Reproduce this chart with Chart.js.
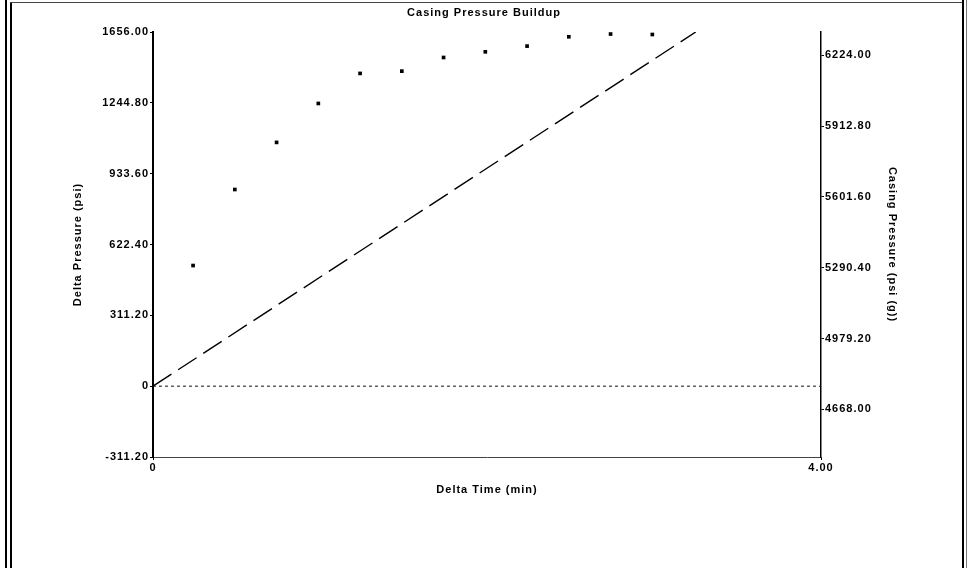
<!DOCTYPE html>
<html><head><meta charset="utf-8">
<script src="https://cdn.jsdelivr.net/npm/chart.js@4.4.1/dist/chart.umd.min.js"></script>
<style>
html,body{margin:0;padding:0;background:#fff;}
#wrap{position:relative;width:968px;height:568px;overflow:hidden;background:#fff;}
canvas{position:absolute;left:0;top:0;}
.ln{position:absolute;}
</style></head><body>
<div id="wrap">
<div class="ln" style="left:5px;top:0;width:2px;height:568px;background:#000"></div>
<div class="ln" style="left:10px;top:2px;width:2px;height:566px;background:#000"></div>
<div class="ln" style="left:10px;top:2px;width:953px;height:1px;background:#444"></div>
<div class="ln" style="left:962px;top:0;width:2px;height:568px;background:#000"></div>
<div class="ln" style="left:966px;top:0;width:1px;height:568px;background:#777"></div>
<canvas id="c" width="968" height="568"></canvas>
</div>
<script>
// ---- data ----
const deltaTime = [0.24, 0.49, 0.74, 0.99, 1.24, 1.49, 1.74, 1.99, 2.24, 2.49, 2.74, 2.99];
const deltaPressure = [530, 864, 1071, 1242, 1374, 1384, 1444, 1469, 1494, 1535, 1547, 1545];
const trendTime = [0, 3.25];
const trendPressure = [0, 1556];
const zeroTime = [0, 4];
const zeroPressure = [0, 0];
const leftTickValues = [-311.2, 0, 311.2, 622.4, 933.6, 1244.8, 1556];
const leftTickLabels = ['-311.20', '0', '311.20', '622.40', '933.60', '1244.80', '1656.00'];
const rightTickValues = [4668, 4979.2, 5290.4, 5601.6, 5912.8, 6224];
const rightTickLabels = ['4668.00', '4979.20', '5290.40', '5601.60', '5912.80', '6224.00'];
const xTickValues = [0, 4];
const xTickLabels = ['0', '4.00'];

const pts = (xs, ys) => xs.map((x, i) => ({x: x, y: ys[i]}));
const FONT = {family: "'Liberation Sans', Arial, sans-serif", size: 11, weight: 'bold'};
const SP = '1px';

const spacing = {
  id: 'spacing',
  beforeLayout(c) { c.ctx.letterSpacing = SP; },
  beforeDraw(c) { c.ctx.letterSpacing = SP; }
};

new Chart(document.getElementById('c'), {
  type: 'scatter',
  data: {
    datasets: [
      {
        label: 'Delta Pressure',
        data: pts(deltaTime, deltaPressure),
        showLine: false,
        pointStyle: 'rect',
        pointRadius: 2.6,
        pointBorderWidth: 0,
        backgroundColor: '#000',
        borderColor: '#000',
        yAxisID: 'y'
      },
      {
        label: 'Trend',
        data: pts(trendTime, trendPressure),
        showLine: true,
        borderColor: '#000',
        borderWidth: 1.4,
        borderDash: [22, 8],
        pointRadius: 0,
        yAxisID: 'y'
      },
      {
        label: 'Zero',
        data: pts(zeroTime, zeroPressure),
        showLine: true,
        borderColor: '#111',
        borderWidth: 1,
        borderDash: [3, 3],
        pointRadius: 0,
        yAxisID: 'y'
      }
    ]
  },
  plugins: [spacing],
  options: {
    responsive: false,
    animation: false,
    devicePixelRatio: 1,
    layout: {padding: 0},
    plugins: {
      legend: {display: false},
      tooltip: {enabled: false},
      title: {
        display: true,
        text: 'Casing Pressure Buildup',
        color: '#000',
        font: FONT,
        padding: {top: 6, bottom: 12.8}
      }
    },
    scales: {
      x: {
        type: 'linear',
        position: 'bottom',
        min: 0, max: 4,
        afterFit(s) { s.height = 111; },
        afterBuildTicks(s) { s.ticks = xTickValues.map(v => ({value: v})); },
        ticks: {
          callback: (v, i) => xTickLabels[i],
          color: '#000', font: FONT, padding: 1, maxRotation: 0, autoSkip: false
        },
        grid: {drawOnChartArea: false, tickLength: 3, color: '#000'},
        border: {color: '#444', width: 1},
        title: {display: true, text: 'Delta Time (min)', color: '#000', font: FONT, padding: {top: 0, bottom: 71}}
      },
      y: {
        type: 'linear',
        position: 'left',
        min: -311.2, max: 1556,
        afterFit(s) { s.width = 153; },
        afterBuildTicks(s) { s.ticks = leftTickValues.map(v => ({value: v})); },
        ticks: {
          callback: (v, i) => leftTickLabels[i],
          color: '#000', font: FONT, padding: 1, autoSkip: false
        },
        grid: {drawOnChartArea: false, tickLength: 3, color: '#000'},
        border: {color: '#000', width: 2},
        title: {display: true, text: 'Delta Pressure (psi)', color: '#000', font: FONT, padding: {top: 71, bottom: 0}}
      },
      y2: {
        type: 'linear',
        position: 'right',
        min: 4458.8, max: 6326,
        afterFit(s) { s.width = 147; },
        afterBuildTicks(s) { s.ticks = rightTickValues.map(v => ({value: v})); },
        ticks: {
          callback: (v, i) => rightTickLabels[i],
          color: '#000', font: FONT, padding: 1, autoSkip: false
        },
        grid: {drawOnChartArea: false, tickLength: 3, color: '#000'},
        border: {color: '#000', width: 1.5},
        title: {display: true, text: 'Casing Pressure (psi (g))', color: '#000', font: FONT, padding: {top: 69, bottom: 0}}
      }
    }
  }
});
</script>
</body></html>
